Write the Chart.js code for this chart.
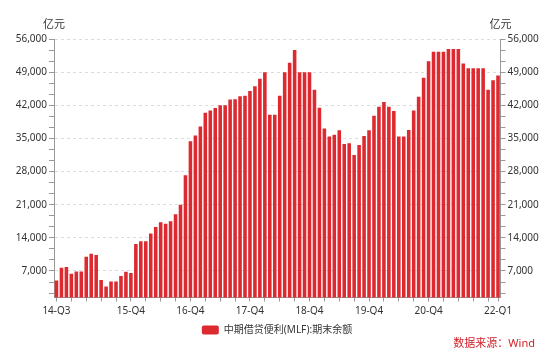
<!DOCTYPE html>
<html>
<head>
<meta charset="utf-8">
<script src="https://cdn.jsdelivr.net/npm/chart.js@4"></script>
<style>
  body { margin: 0; background: #fff; }
  #wrap { width: 554px; height: 357px; }
</style>
</head>
<body>
<div id="wrap"><canvas id="mlfChart" width="554" height="357"></canvas></div>
<script>
// Monthly MLF balance (100 million yuan), Sep 2014 - Feb 2022
const startYear = 2014;
const startMonth = 9;
const mlfBalance = [
  5000, 7700, 7850, 6400, 6900, 6900, 10000, 10650, 10400, 5100,
  3700, 4800, 4800, 5950, 6850, 6550, 12700, 13300, 13300, 14900,
  16300, 17300, 17000, 17500, 19000, 21000, 27200, 34400, 35600, 37500,
  40400, 40900, 41400, 42000, 42000, 43200, 43300, 43900, 44000, 45000,
  46000, 47600, 49000, 40000, 40000, 44000, 49000, 51000, 53700, 49000,
  49000, 49000, 45300, 41500, 37100, 35400, 35800, 36700, 33800, 34000,
  31500, 33600, 35500, 36700, 39800, 41700, 42700, 41700, 40800, 35400,
  35400, 36800, 40900, 43800, 47800, 51300, 53300, 53300, 53300, 53900,
  53900, 53900, 50800, 49800, 49800, 49800, 49800, 45300, 47300, 48300
];

// Category labels in "YY-Qn" form, one per month
const categories = [];
for (let i = 0; i < mlfBalance.length; i++) {
  const m = startMonth - 1 + i;
  const y = startYear + Math.floor(m / 12);
  const q = Math.floor((m % 12) / 3) + 1;
  categories.push(String(y).slice(2) + '-Q' + q);
}

// Which category labels are printed on the x axis
const shownLabels = [0, 15, 27, 39, 51, 63, 75, 89];

// Y axis: major ticks every 7000, two minor ticks in between
const yMin = 1400;
const yMax = 56000;
const yStep = 7000;
const yMinorSplit = 3;

const seriesName = '中期借贷便利(MLF):期末余额';
const unitLabel = '亿元';
const sourceLabel = '数据来源：Wind';

const barColor = '#dc2a30';
const axisColor = '#999999';
const textColor = '#333333';
const fontFamily = "'Noto Sans', 'Noto Sans CJK SC', sans-serif";

function buildYTicks(axis) {
  const ticks = [];
  const minor = yStep / yMinorSplit;
  for (let v = minor; v <= yMax + 1; v += minor) {
    if (v >= yMin) ticks.push({ value: Math.round(v * 100) / 100 });
  }
  axis.ticks = ticks;
}

function isMajor(value) {
  return Math.abs(value / yStep - Math.round(value / yStep)) < 1e-6;
}

function yAxis(position, showGrid, width) {
  return {
    position: position,
    min: yMin,
    max: yMax,
    afterBuildTicks: buildYTicks,
    afterFit: function(scale) { scale.width = width; },
    ticks: {
      autoSkip: false,
      padding: 2,
      color: textColor,
      font: { family: fontFamily, size: 10 },
      callback: function(value) {
        return isMajor(value) ? Math.round(value).toLocaleString('en-US') : '';
      }
    },
    grid: {
      drawOnChartArea: showGrid,
      color: function(ctx) {
        return ctx.tick && isMajor(ctx.tick.value) ? '#dddddd' : 'rgba(0,0,0,0)';
      },
      tickColor: axisColor,
      tickLength: 5,
      tickBorderDash: []
    },
    border: { color: axisColor, dash: [3, 3] }
  };
}

// Unit labels above both axes and the data source note
const notesPlugin = {
  id: 'notes',
  afterDraw(chart) {
    const ctx = chart.ctx;
    const area = chart.chartArea;
    ctx.save();
    ctx.font = '11px ' + fontFamily;
    ctx.fillStyle = textColor;
    ctx.textAlign = 'center';
    ctx.textBaseline = 'middle';
    ctx.fillText(unitLabel, area.left, 25);
    ctx.fillText(unitLabel, area.right, 25);
    ctx.fillStyle = '#d0222a';
    ctx.textAlign = 'right';
    ctx.fillText(sourceLabel, 535, 344);
    ctx.restore();
  }
};

const chart = new Chart(document.getElementById('mlfChart').getContext('2d'), {
  type: 'bar',
  data: {
    labels: categories,
    datasets: [{
      label: seriesName,
      data: mlfBalance,
      backgroundColor: barColor,
      borderWidth: 0,
      barPercentage: 0.72,
      categoryPercentage: 1.0,
      yAxisID: 'y'
    }]
  },
  options: {
    responsive: false,
    animation: false,
    layout: { padding: { top: 39, bottom: 12, left: 0, right: 0 } },
    scales: {
      x: {
        offset: true,
        afterFit: function(scale) { scale.height = 17.5; },
        ticks: {
          autoSkip: false,
          maxRotation: 0,
          padding: 4,
          color: textColor,
          font: { family: fontFamily, size: 10 },
          callback: function(value, index) {
            return shownLabels.includes(index) ? categories[index] : '';
          }
        },
        grid: {
          drawOnChartArea: false,
          offset: false,
          tickLength: 4,
          tickColor: function(ctx) {
            return (ctx.index % 3 === 0 || ctx.index === mlfBalance.length - 1) ? axisColor : 'rgba(0,0,0,0)';
          }
        },
        border: { color: axisColor }
      },
      y: yAxis('left', true, 54),
      y2: yAxis('right', false, 53.5)
    },
    plugins: {
      legend: {
        position: 'bottom',
        labels: {
          boxWidth: 17,
          boxHeight: 9,
          useBorderRadius: true,
          borderRadius: 2,
          padding: 10,
          color: textColor,
          font: { family: fontFamily, size: 10 }
        }
      },
      tooltip: { enabled: false }
    }
  },
  plugins: [notesPlugin]
});
</script>
</body>
</html>
